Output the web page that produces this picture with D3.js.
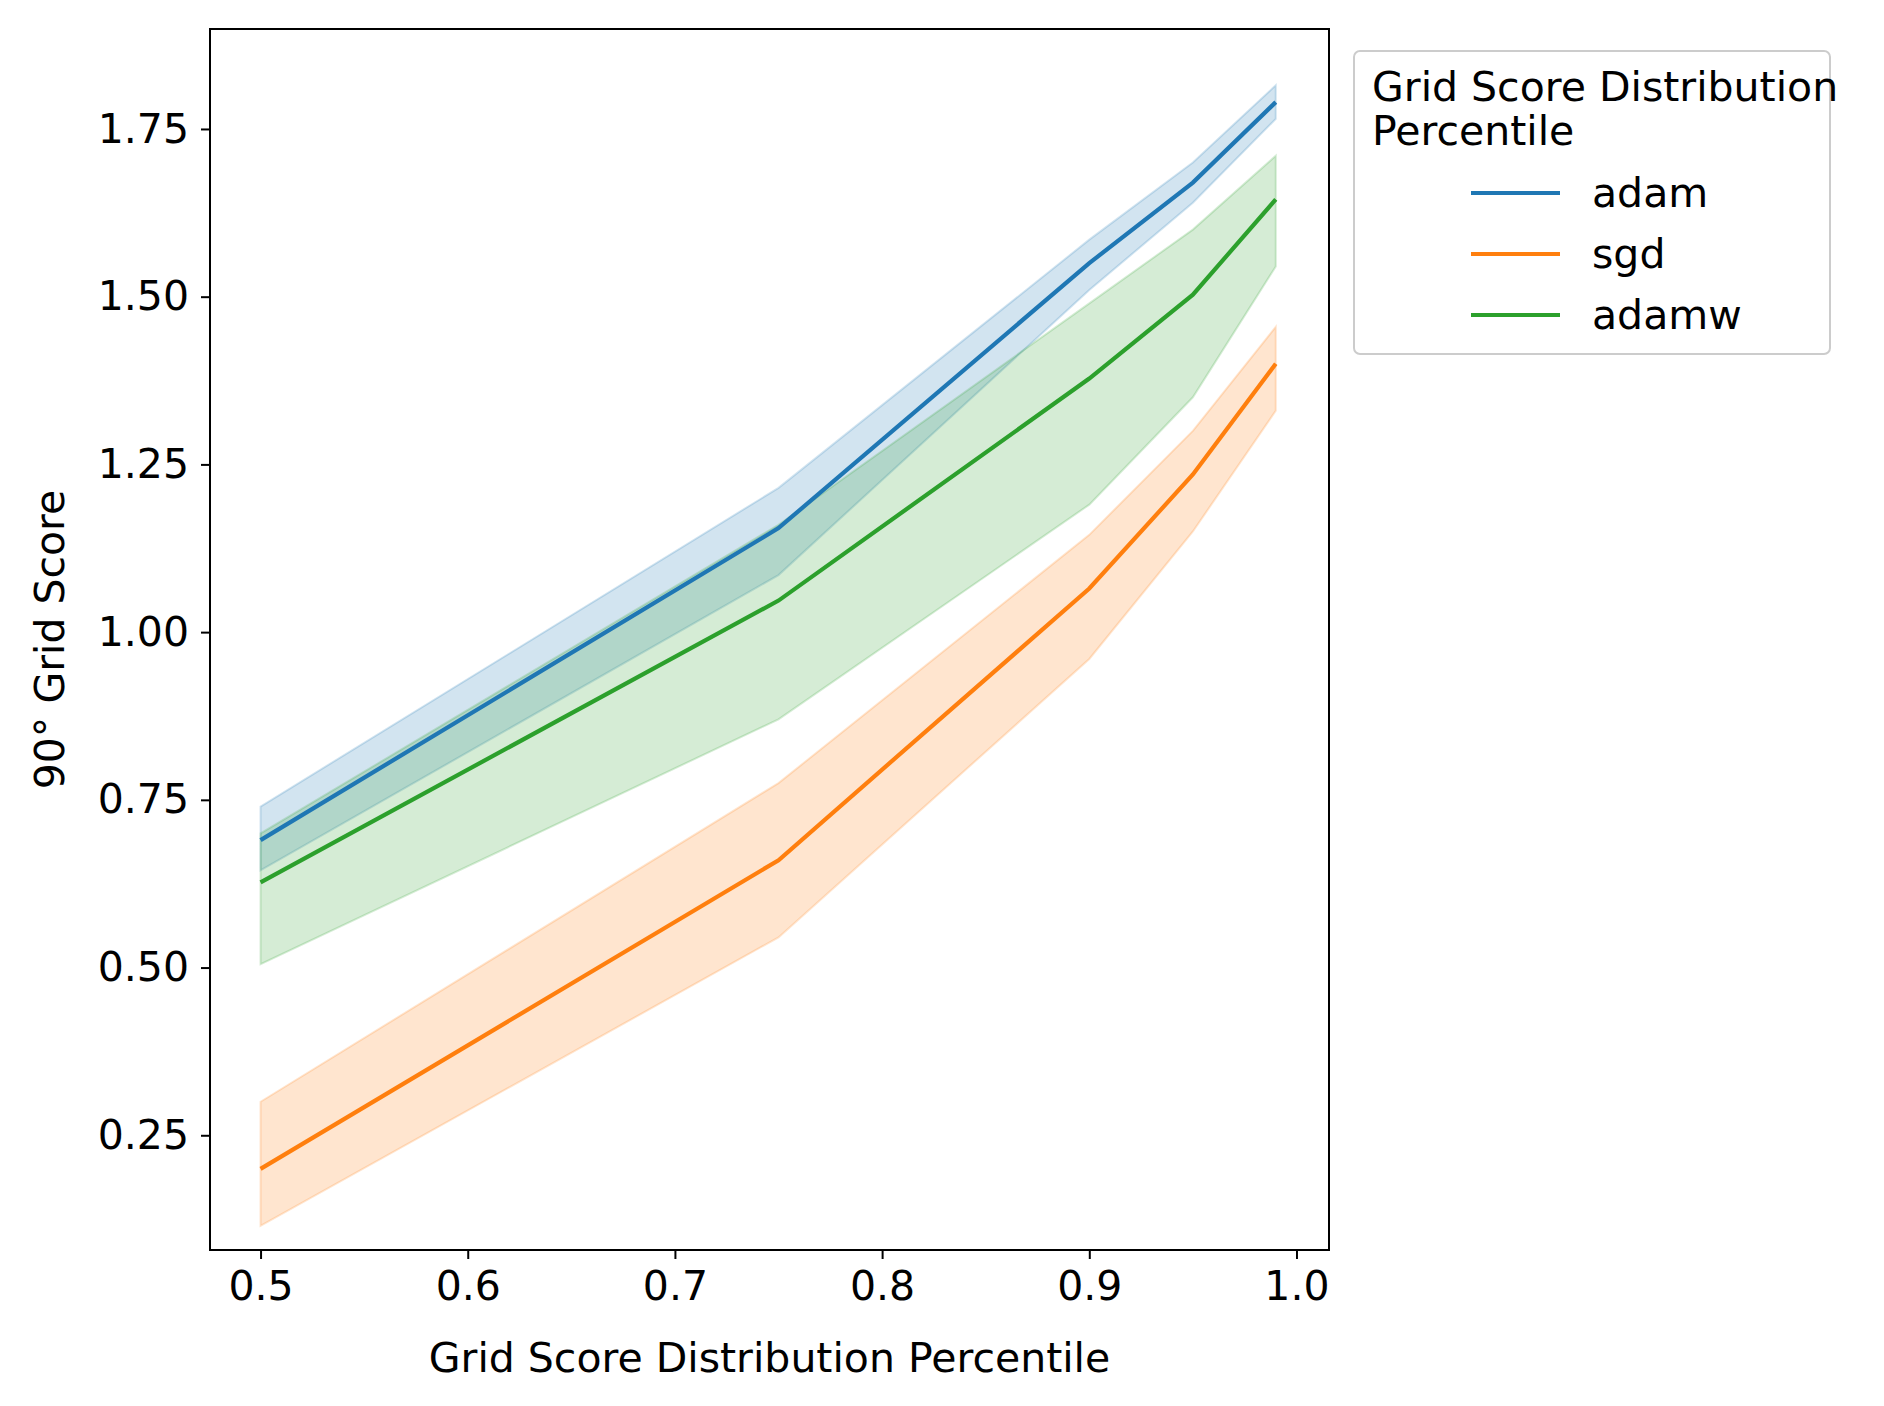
<!DOCTYPE html>
<html><head><meta charset="utf-8">
<script src="https://cdn.jsdelivr.net/npm/d3@7"></script>
<style>body{margin:0;background:#fff}text{font-family:"DejaVu Sans";fill:#000}</style>
</head><body><svg id="c" width="1884" height="1406"></svg>
<script>
const xs=[0.5,0.75,0.9,0.95,0.99];
const seriesNames=["adam","sgd","adamw"];
const colors=["#1f77b4","#ff7f0e","#2ca02c"];
const adamMean=[0.69,1.155,1.55,1.67,1.79];
const adamHi=[0.74,1.215,1.585,1.70,1.815];
const adamLo=[0.645,1.085,1.51,1.64,1.765];
const sgdMean=[0.20,0.66,1.065,1.235,1.40];
const sgdHi=[0.30,0.775,1.145,1.30,1.455];
const sgdLo=[0.115,0.545,0.96,1.15,1.33];
const adamwMean=[0.627,1.047,1.378,1.503,1.645];
const adamwHi=[0.70,1.16,1.49,1.60,1.71];
const adamwLo=[0.505,0.87,1.19,1.35,1.545];
const xTicks=[0.5,0.6,0.7,0.8,0.9,1.0];
const yTicks=[0.25,0.5,0.75,1.0,1.25,1.5,1.75];
const series=[[adamMean,adamLo,adamHi],[sgdMean,sgdLo,sgdHi],[adamwMean,adamwLo,adamwHi]];

const L=210,R=1329,T=29,B=1250;
const svg=d3.select("#c");
const x=d3.scaleLinear().domain([0.4756,1.0157]).range([L,R]);
const y=d3.scaleLinear().domain([0.079,1.899]).range([B,T]);
const g=svg.append("g");
series.forEach((s,i)=>{
  const area=d3.area().x((d,j)=>x(xs[j])).y0((d,j)=>y(s[1][j])).y1((d,j)=>y(s[2][j]));
  g.append("path").attr("d",area(xs)).attr("fill",colors[i]).attr("fill-opacity",0.2)
   .attr("stroke",colors[i]).attr("stroke-opacity",0.2).attr("stroke-width",2);
});
series.forEach((s,i)=>{
  const line=d3.line().x((d,j)=>x(xs[j])).y((d,j)=>y(s[0][j]));
  g.append("path").attr("d",line(xs)).attr("fill","none").attr("stroke",colors[i]).attr("stroke-width",4.2);
});
const fs=41;
const xa=svg.append("g").attr("transform",`translate(0,${B})`).call(d3.axisBottom(x).tickValues(xTicks).tickFormat(d3.format(".1f")).tickSize(9).tickPadding(12));
const ya=svg.append("g").attr("transform",`translate(${L},0)`).call(d3.axisLeft(y).tickValues(yTicks).tickFormat(d3.format(".2f")).tickSize(9).tickPadding(12));
[xa,ya].forEach(a=>{a.select(".domain").remove();a.selectAll("line").attr("stroke","#000").attr("stroke-width",2);
 a.selectAll("text").attr("font-size",fs).attr("font-family","DejaVu Sans");});
svg.append("rect").attr("x",L).attr("y",T).attr("width",R-L).attr("height",B-T).attr("fill","none").attr("stroke","#000").attr("stroke-width",2);
svg.append("text").attr("x",(L+R)/2).attr("y",1372).attr("text-anchor","middle").attr("font-size",fs).text("Grid Score Distribution Percentile");
svg.append("text").attr("transform",`translate(64,${(T+B)/2}) rotate(-90)`).attr("text-anchor","middle").attr("font-size",fs).text("90° Grid Score");
const lg=svg.append("g");
lg.append("rect").attr("x",1354).attr("y",51).attr("width",476).attr("height",303).attr("rx",6).attr("fill","#fff").attr("stroke","#ccc").attr("stroke-width",2);
lg.append("text").attr("x",1372).attr("y",101).attr("font-size",fs).text("Grid Score Distribution");
lg.append("text").attr("x",1372).attr("y",145).attr("font-size",fs).text("Percentile");
seriesNames.forEach((n,i)=>{
  const yy=193+i*61;
  lg.append("line").attr("x1",1471).attr("x2",1560).attr("y1",yy).attr("y2",yy).attr("stroke",colors[i]).attr("stroke-width",4.2);
  lg.append("text").attr("x",1592).attr("y",yy+14).attr("font-size",fs).text(n);
});
</script></body></html>
